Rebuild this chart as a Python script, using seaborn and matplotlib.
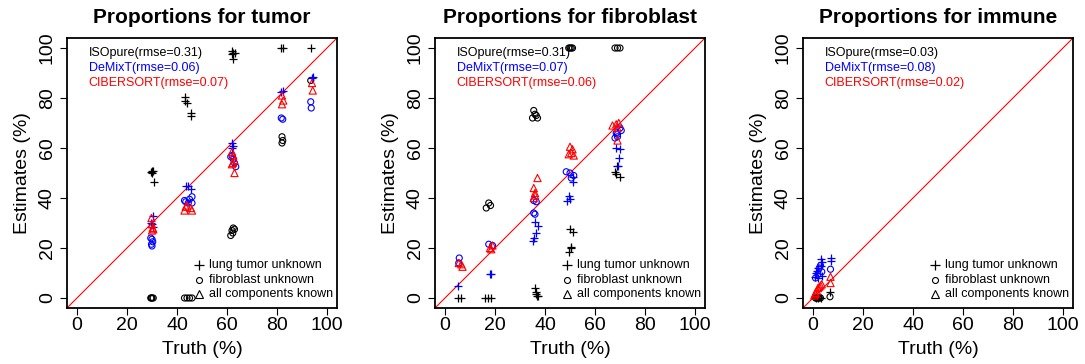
import matplotlib
matplotlib.use("Agg")
import matplotlib.pyplot as plt
import numpy as np
import pandas as pd
import seaborn as sns

# ---- estimated vs. true proportions (%), one list of (truth, estimate) per method/scenario ----

# tumor
tumor_isopure_lung = [(29.5, 50.5), (30.0, 50.0), (30.5, 51.0), (30.0, 51.0), (30.8, 46.5),
                      (43.0, 80.5), (43.3, 79.0), (43.8, 78.0), (45.5, 74.0), (45.7, 72.8),
                      (62.0, 99.0), (62.5, 98.0), (61.8, 97.5), (63.0, 98.0), (62.2, 95.5),
                      (81.5, 100.0), (82.3, 100.0), (93.5, 100.0)]
tumor_isopure_fib = [(29.5, 0.0), (30.0, 0.0), (30.5, 0.0), (29.8, 0.0),
                     (43.0, 0.0), (44.0, 0.0), (45.0, 0.0), (46.0, 0.0),
                     (61.5, 25.0), (62.0, 27.0), (62.5, 28.0), (63.0, 27.5), (62.3, 26.0),
                     (82.0, 62.0), (82.3, 63.0), (82.0, 64.5), (93.5, 87.0)]
tumor_demixt_lung = [(29.5, 30.0), (30.2, 33.0), (30.0, 29.5), (30.5, 28.5),
                     (43.5, 45.0), (44.5, 45.0), (45.5, 43.5),
                     (62.0, 62.0), (62.5, 61.0), (61.8, 60.0),
                     (81.5, 82.5), (82.5, 83.0), (93.8, 88.0), (94.3, 88.5)]
tumor_demixt_fib = [(29.5, 24.0), (30.0, 23.5), (30.3, 22.5), (29.8, 21.5), (30.0, 20.8),
                    (43.0, 39.0), (43.5, 38.5), (44.5, 38.0), (45.0, 39.5), (46.0, 40.5), (46.0, 38.0),
                    (61.5, 56.5), (62.0, 57.0), (62.5, 55.5), (63.0, 54.0), (63.5, 52.5),
                    (81.7, 72.0), (82.3, 71.5), (93.5, 78.5), (93.7, 76.0)]
tumor_cibersort_all = [(29.8, 32.0), (30.0, 29.5), (30.3, 28.0), (30.5, 27.5), (30.0, 27.0),
                       (43.0, 35.0), (43.5, 36.5), (44.0, 37.0), (45.5, 36.0), (46.0, 35.0),
                       (62.0, 58.5), (62.5, 57.0), (62.3, 54.0), (63.0, 55.0), (62.0, 53.5), (63.0, 50.0),
                       (82.0, 81.0), (82.5, 79.0), (82.0, 77.5), (94.0, 86.0), (94.3, 83.0)]

# fibroblast
fib_isopure_lung = [(5.0, 0.0), (6.5, 0.0), (16.0, 0.0), (17.0, 0.0), (18.5, 0.0),
                    (36.0, 4.0), (36.3, 2.5), (36.8, 1.0), (36.5, 1.5), (37.0, 0.7),
                    (50.0, 27.5), (51.0, 26.5), (50.5, 20.5), (49.5, 18.5), (50.2, 20.0),
                    (68.0, 50.5), (68.5, 49.5), (70.0, 48.5), (68.8, 53.0)]
fib_isopure_fib = [(16.5, 36.0), (17.5, 38.0), (18.2, 37.0),
                   (35.5, 75.0), (36.0, 73.5), (35.0, 72.0), (37.0, 72.0), (36.5, 73.0),
                   (49.5, 100.0), (50.0, 100.0), (50.5, 100.0), (51.0, 100.0),
                   (68.0, 100.0), (69.0, 100.0), (70.0, 100.0)]
fib_demixt_lung = [(5.0, 5.0), (17.8, 9.5), (18.5, 9.5),
                   (36.0, 30.5), (37.0, 29.0), (36.5, 26.0), (35.5, 24.0), (35.0, 23.0),
                   (51.0, 48.5), (51.2, 46.5), (49.5, 41.0), (48.8, 39.0), (50.0, 39.5),
                   (68.5, 60.0), (69.5, 56.0), (69.0, 53.0), (70.0, 59.5)]
fib_demixt_fib = [(5.7, 16.0), (5.5, 14.0), (17.5, 21.5), (19.0, 21.0),
                  (35.5, 39.0), (36.5, 38.5), (35.5, 34.0), (36.0, 33.5),
                  (48.5, 50.5), (50.0, 50.0), (51.5, 49.0), (50.5, 48.0),
                  (68.0, 64.0), (69.0, 65.5), (70.5, 67.0), (68.5, 66.0), (70.0, 68.0), (69.0, 64.5)]
fib_cibersort_all = [(5.5, 14.0), (6.5, 13.5), (7.0, 12.5), (18.0, 20.0), (18.5, 19.5), (19.0, 21.0),
                     (37.0, 48.0), (35.5, 44.0), (36.0, 42.0), (35.5, 40.0), (36.0, 41.0),
                     (50.0, 60.5), (51.0, 59.5), (50.5, 58.0), (49.5, 57.5), (51.5, 57.0),
                     (67.0, 69.0), (68.5, 69.5), (69.5, 70.0), (69.0, 68.0), (69.0, 63.0)]

# immune
imm_isopure_lung = [(6.8, 2.5), (1.0, 0.0), (2.0, 0.0), (3.0, 0.0), (0.8, 0.5)]
imm_isopure_fib = [(6.8, 0.5), (1.0, 0.0), (2.0, 0.0), (3.0, 0.0), (2.5, 0.0), (1.5, 0.0)]
imm_demixt_lung = [(3.0, 15.5), (3.5, 14.5), (7.0, 16.0), (7.0, 15.0), (1.0, 10.0), (2.0, 8.0),
                   (3.5, 9.0), (1.5, 11.0), (3.0, 13.0), (0.8, 8.5), (2.0, 12.0)]
imm_demixt_fib = [(7.0, 11.5), (3.0, 13.0), (2.0, 9.5), (1.0, 8.0), (3.5, 10.5), (2.5, 12.0)]
imm_cibersort_all = [(7.0, 8.5), (7.0, 6.0), (1.0, 2.0), (2.0, 4.0), (3.0, 5.0), (1.5, 3.0),
                     (0.5, 1.0), (2.5, 4.5), (3.5, 5.5), (1.0, 1.5)]

panel_titles = ["Proportions for tumor", "Proportions for fibroblast", "Proportions for immune"]
methods = ["ISOpure", "DeMixT", "CIBERSORT"]
rmse_isopure = [0.31, 0.31, 0.03]
rmse_demixt = [0.06, 0.07, 0.08]
rmse_cibersort = [0.07, 0.06, 0.02]
scenario_labels = ["lung tumor unknown", "fibroblast unknown", "all components known"]
axis_ticks = [0, 20, 40, 60, 80, 100]

method_colors = {"ISOpure": "black", "DeMixT": "#0000FF", "CIBERSORT": "#FF0000"}
scenario_markers = {"lung tumor unknown": "+", "fibroblast unknown": "o",
                    "all components known": "^"}
scenario_sizes = {"lung tumor unknown": 38, "fibroblast unknown": 19,
                  "all components known": 27}


def to_frame(panel, method, scenario, pairs):
    arr = np.asarray(pairs, dtype=float)
    return pd.DataFrame({"panel": panel, "method": method, "scenario": scenario,
                         "truth": arr[:, 0], "estimate": arr[:, 1]})


frames = []
for p, groups in enumerate([
    [tumor_isopure_lung, tumor_isopure_fib, tumor_demixt_lung, tumor_demixt_fib, tumor_cibersort_all],
    [fib_isopure_lung, fib_isopure_fib, fib_demixt_lung, fib_demixt_fib, fib_cibersort_all],
    [imm_isopure_lung, imm_isopure_fib, imm_demixt_lung, imm_demixt_fib, imm_cibersort_all],
]):
    frames.append(to_frame(p, "ISOpure", scenario_labels[0], groups[0]))
    frames.append(to_frame(p, "ISOpure", scenario_labels[1], groups[1]))
    frames.append(to_frame(p, "DeMixT", scenario_labels[0], groups[2]))
    frames.append(to_frame(p, "DeMixT", scenario_labels[1], groups[3]))
    frames.append(to_frame(p, "CIBERSORT", scenario_labels[2], groups[4]))
data = pd.concat(frames, ignore_index=True)

sns.set_theme(style="white")
plt.rcParams["font.family"] = ["Liberation Sans", "DejaVu Sans"]

fig = plt.figure(figsize=(10.85, 3.64), dpi=100)
lefts = [67 / 1085, 435 / 1085, 803 / 1085]
axes = [fig.add_axes([l, 56 / 364, 270 / 1085, 270 / 364]) for l in lefts]

for p, ax in enumerate(axes):
    sub = data[data["panel"] == p]
    for method in methods:
        for scenario in scenario_labels:
            grp = sub[(sub["method"] == method) & (sub["scenario"] == scenario)]
            if grp.empty:
                continue
            col = method_colors[method]
            mk = scenario_markers[scenario]
            if mk == "+":
                sns.scatterplot(data=grp, x="truth", y="estimate", ax=ax, marker="+",
                                color=col, s=scenario_sizes[scenario], linewidth=0.9,
                                legend=False, zorder=3)
            else:
                sns.scatterplot(data=grp, x="truth", y="estimate", ax=ax, marker=mk,
                                facecolor="none", edgecolor=col, color=col,
                                s=scenario_sizes[scenario], linewidth=0.8,
                                legend=False, zorder=3)

    ax.axline((0, 0), slope=1, color="#FF0000", linewidth=0.8, zorder=2)
    ax.set_xlim(-4, 104)
    ax.set_ylim(-4, 104)
    ax.set_xticks(axis_ticks)
    ax.set_yticks(axis_ticks)
    ax.tick_params(axis="both", direction="out", length=5, width=0.8, color="black",
                   labelsize=14, labelcolor="black", bottom=True, left=True)
    ax.tick_params(axis="x", pad=1.5)
    ax.tick_params(axis="y", pad=3, labelrotation=90)
    for lab in ax.get_yticklabels():
        lab.set_verticalalignment("center")
    for sp in ax.spines.values():
        sp.set_color("black")
        sp.set_linewidth(1.3)
    ax.set_xlabel("Truth (%)", fontsize=14, color="black")
    ax.set_ylabel("Estimates (%)", fontsize=14, color="black")
    ax.xaxis.set_label_coords(0.5, -0.122)
    ax.yaxis.set_label_coords(-0.135, 0.5)
    ax.set_title(panel_titles[p], fontsize=15, fontweight="bold", color="black", pad=11)

    # method / rmse annotation, top-left
    rmse_vals = [rmse_isopure[p], rmse_demixt[p], rmse_cibersort[p]]
    for i, (m, r) in enumerate(zip(methods, rmse_vals)):
        ax.text(0.08, 0.946 - i * 0.0555, f"{m}(rmse={r:.2f})", transform=ax.transAxes,
                fontsize=9, color=method_colors[m], ha="left", va="center")

    # scenario key, bottom-right
    for i, sc in enumerate(scenario_labels):
        yk = 0.159 - i * 0.0535
        mk = scenario_markers[sc]
        if mk == "+":
            ax.plot([0.489], [yk], transform=ax.transAxes, marker="+", color="black",
                    markersize=6.5, markeredgewidth=0.9, linestyle="none", clip_on=False)
        else:
            ax.plot([0.489], [yk], transform=ax.transAxes, marker=mk, color="black",
                    markerfacecolor="none", markersize=4.3 if mk == "o" else 5.4,
                    markeredgewidth=0.8, linestyle="none", clip_on=False)
        ax.text(0.526, yk, sc, transform=ax.transAxes, fontsize=9, color="black",
                ha="left", va="center")

fig.savefig("out.png", dpi=100)
